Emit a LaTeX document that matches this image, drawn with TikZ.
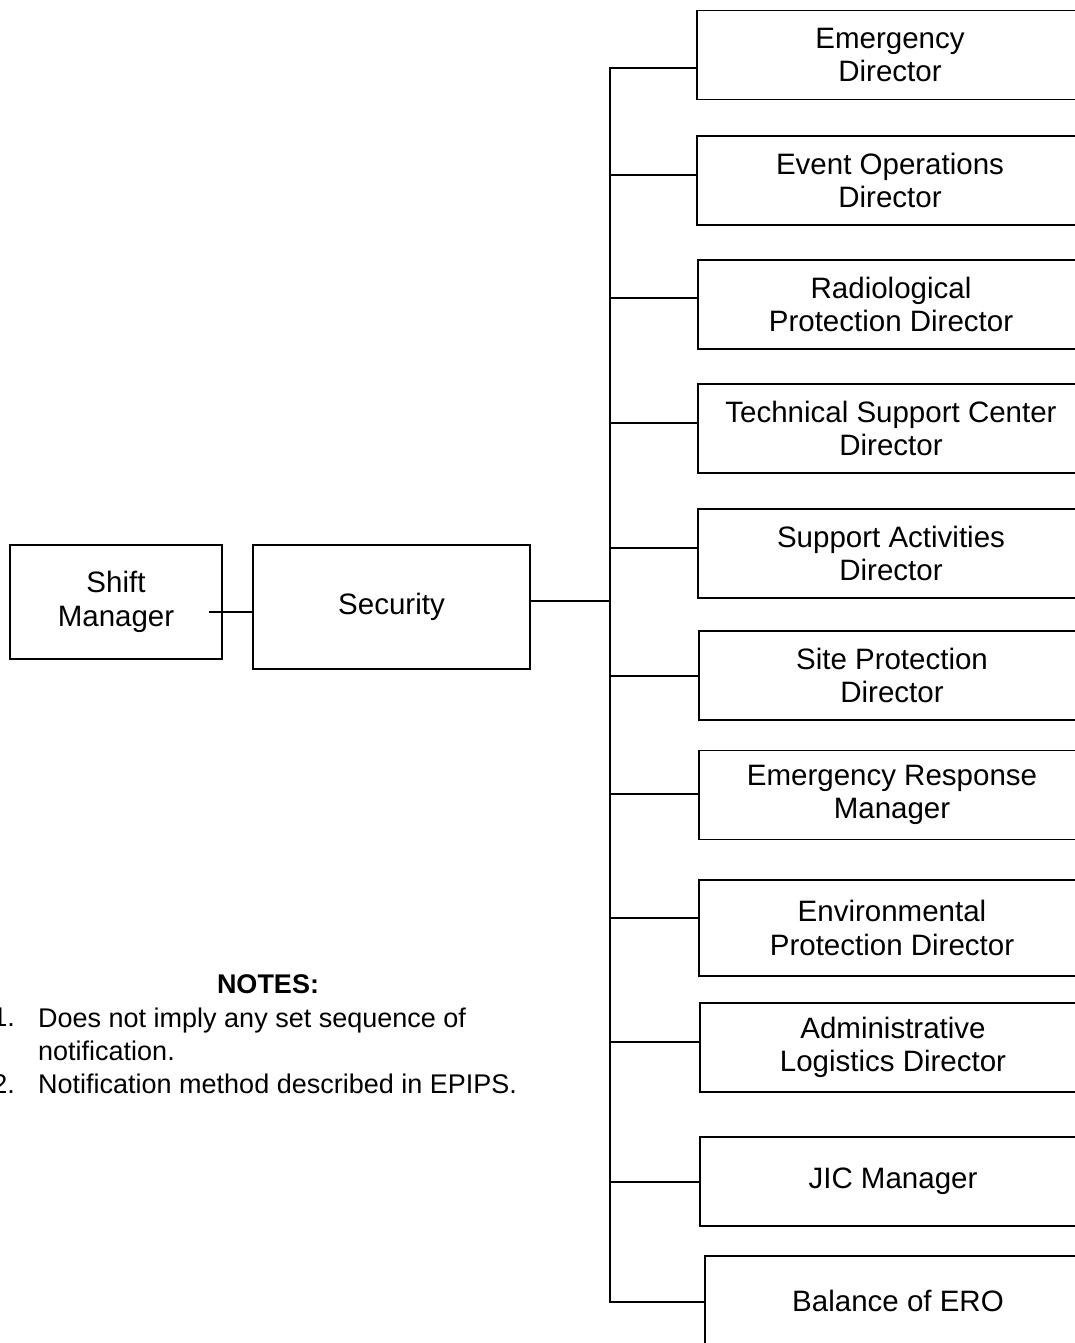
\documentclass[tikz,border=0pt]{standalone}
\usepackage{fontspec}
\setmainfont{Liberation Sans}
\newcommand{\rolefont}{\fontsize{29.5}{33.5}\selectfont}
\newcommand{\notefont}{\fontsize{27}{33}\selectfont}
\tikzset{
  rolebox/.style={rectangle, draw, line width=1.8pt, minimum width=386pt, minimum height=89pt, inner sep=0pt, align=center, font=\rolefont},
  link/.style={line width=1.8pt},
  notetext/.style={inner sep=0pt, align=left, font=\notefont}
}
\begin{document}
\begin{tikzpicture}[x=1pt, y=-1pt]
\useasboundingbox (0,0) rectangle (1075,1343);
\clip (0,0) rectangle (1075,1343);
% left chain
\node[rolebox, minimum width=212pt, minimum height=114pt] (shift) at (116,602) {Shift\\Manager};
\node[rolebox, minimum width=277pt, minimum height=124pt] (security) at (391.5,607) {Security};
% notified positions
\node[rolebox] (emdir) at (890,55) {Emergency\\Director};
\node[rolebox] (eventops) at (890,180.5) {Event Operations\\Director};
\node[rolebox] (radprot) at (891,304.5) {Radiological\\Protection Director};
\node[rolebox] (tsc) at (891,428.5) {Technical Support Center\\Director};
\node[rolebox] (support) at (891,553.5) {Support Activities\\Director};
\node[rolebox] (siteprot) at (892,675.5) {Site Protection\\Director};
\node[rolebox] (erm) at (892,795) {Emergency Response\\Manager};
\node[rolebox, minimum height=96pt] (envprot) at (892,928) {Environmental\\Protection Director};
\node[rolebox] (admin) at (893,1047.5) {Administrative\\Logistics Director};
\node[rolebox] (jic) at (893,1181.5) {JIC Manager};
\node[rolebox] (balance) at (898,1300.5) {Balance of ERO};
% bus coordinates
\coordinate (sm) at (209,612);
\coordinate (bsec) at (610,601);
\coordinate (b1) at (610,68);
\coordinate (b2) at (610,175);
\coordinate (b3) at (610,298);
\coordinate (b4) at (610,423);
\coordinate (b5) at (610,548);
\coordinate (b6) at (610,676);
\coordinate (b7) at (610,794);
\coordinate (b8) at (610,918);
\coordinate (b9) at (610,1042);
\coordinate (b10) at (610,1182);
\coordinate (b11) at (610,1302);
\draw[link] (sm) -- (sm -| security.west);
\draw[link] (bsec -| security.east) -- (bsec);
\draw[link, line cap=rect] (b1) -- (b11);
\draw[link] (b1) -- (b1 -| emdir.west);
\draw[link] (b2) -- (b2 -| eventops.west);
\draw[link] (b3) -- (b3 -| radprot.west);
\draw[link] (b4) -- (b4 -| tsc.west);
\draw[link] (b5) -- (b5 -| support.west);
\draw[link] (b6) -- (b6 -| siteprot.west);
\draw[link] (b7) -- (b7 -| erm.west);
\draw[link] (b8) -- (b8 -| envprot.west);
\draw[link] (b9) -- (b9 -| admin.west);
\draw[link] (b10) -- (b10 -| jic.west);
\draw[link] (b11) -- (b11 -| balance.west);
% notes
\node[notetext, font=\notefont\bfseries] (notes) at (268,984) {NOTES:};
\node[notetext, anchor=north east] (num1) at (15,1008) {1.};
\node[notetext, anchor=north west] (note1) at (38,1008) {Does not imply any set sequence of\\notification.};
\node[notetext, anchor=north east] (num2) at (15,1074) {2.};
\node[notetext, anchor=north west] (note2) at (38,1074) {Notification method described in EPIPS.};
\end{tikzpicture}
\end{document}
